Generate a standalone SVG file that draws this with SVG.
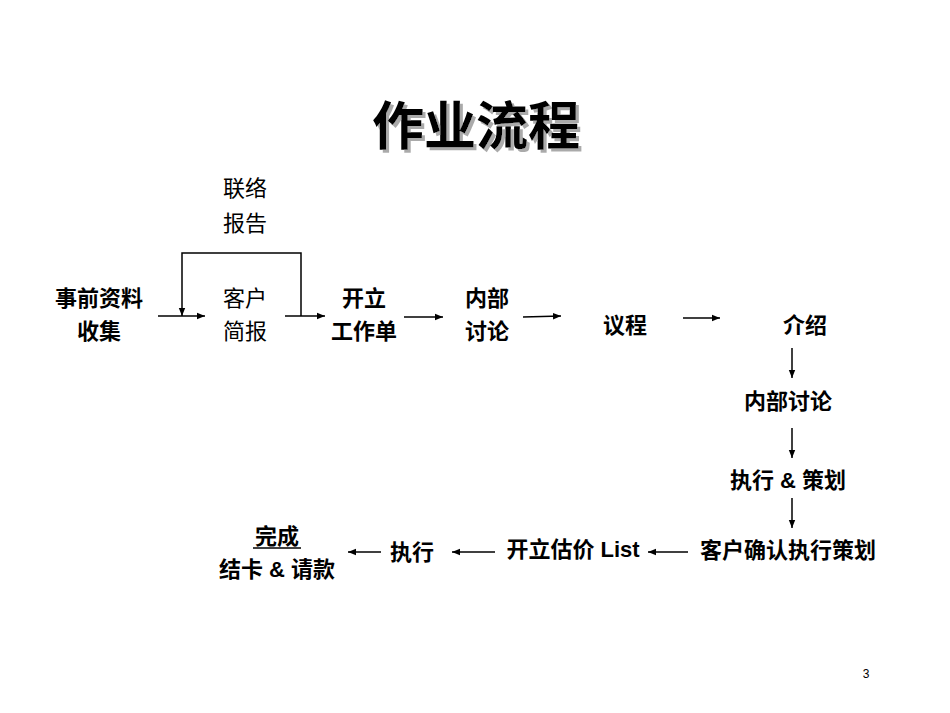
<svg xmlns="http://www.w3.org/2000/svg" width="950" height="713" viewBox="0 0 950 713">
<defs>
<marker id="ah" viewBox="0 0 10 10" refX="10" refY="5" markerWidth="8" markerHeight="8" markerUnits="userSpaceOnUse" orient="auto"><path d="M0,1 L10,5 L0,9 z" fill="#000"/></marker>
<filter id="sh" x="-10%" y="-20%" width="130%" height="150%"><feDropShadow dx="3" dy="3" stdDeviation="0.5" flood-color="#aaa"/></filter>
<style>
text{font-family:"Liberation Sans","Noto Sans CJK SC",sans-serif;font-size:22px;text-anchor:middle;fill:#000}
.b{font-weight:bold}
.t{font-size:52px;font-weight:bold}
line,path.c{stroke:#000;stroke-width:1.5;fill:none}
</style>
</defs>
<rect width="950" height="713" fill="#fff"/>
<text class="t" x="476" y="145" filter="url(#sh)">作业流程</text>
<g id="n1"><text class="b" x="99" y="306">事前资料</text><text class="b" x="99" y="339">收集</text></g>
<g id="n2"><text x="245" y="306">客户</text><text x="245" y="339">简报</text></g>
<g id="n3"><text x="245" y="196">联络</text><text x="245" y="231">报告</text></g>
<g id="n4"><text class="b" x="364" y="306">开立</text><text class="b" x="364" y="339">工作单</text></g>
<g id="n5"><text class="b" x="487" y="306">内部</text><text class="b" x="487" y="339">讨论</text></g>
<g id="n6"><text class="b" x="625" y="333">议程</text></g>
<g id="n7"><text class="b" x="805" y="333">介绍</text></g>
<g id="n8"><text class="b" x="788" y="409">内部讨论</text></g>
<g id="n9"><text class="b" x="788" y="488">执行 &amp; 策划</text></g>
<g id="n10"><text class="b" x="788" y="558">客户确认执行策划</text></g>
<g id="n11"><text class="b" x="573" y="557">开立估价 List</text></g>
<g id="n12"><text class="b" x="412" y="560">执行</text></g>
<g id="n13"><text class="b" x="277" y="544">完成</text><line x1="253" y1="548" x2="301" y2="548" style="stroke-width:1.5"/><text class="b" x="277" y="577">结卡 &amp; 请款</text></g>
<text x="866" y="678" style="font-size:12px">3</text>
<g id="connectors">
<line x1="158" y1="316" x2="205" y2="316" marker-end="url(#ah)"/>
<path class="c" d="M301,316 V253 H182 V316" marker-end="url(#ah)"/>
<line x1="285" y1="316" x2="325" y2="316" marker-end="url(#ah)"/>
<line x1="404" y1="317" x2="443" y2="317" marker-end="url(#ah)"/>
<line x1="523" y1="317" x2="561" y2="316" marker-end="url(#ah)"/>
<line x1="683" y1="318" x2="720" y2="318" marker-end="url(#ah)"/>
<line x1="792" y1="348" x2="792" y2="378" marker-end="url(#ah)"/>
<line x1="792" y1="428" x2="792" y2="458" marker-end="url(#ah)"/>
<line x1="792" y1="498" x2="792" y2="528" marker-end="url(#ah)"/>
<line x1="688" y1="552" x2="648" y2="552" marker-end="url(#ah)"/>
<line x1="495" y1="552" x2="452" y2="552" marker-end="url(#ah)"/>
<line x1="381" y1="552" x2="348" y2="552" marker-end="url(#ah)"/>
</g>
</svg>
